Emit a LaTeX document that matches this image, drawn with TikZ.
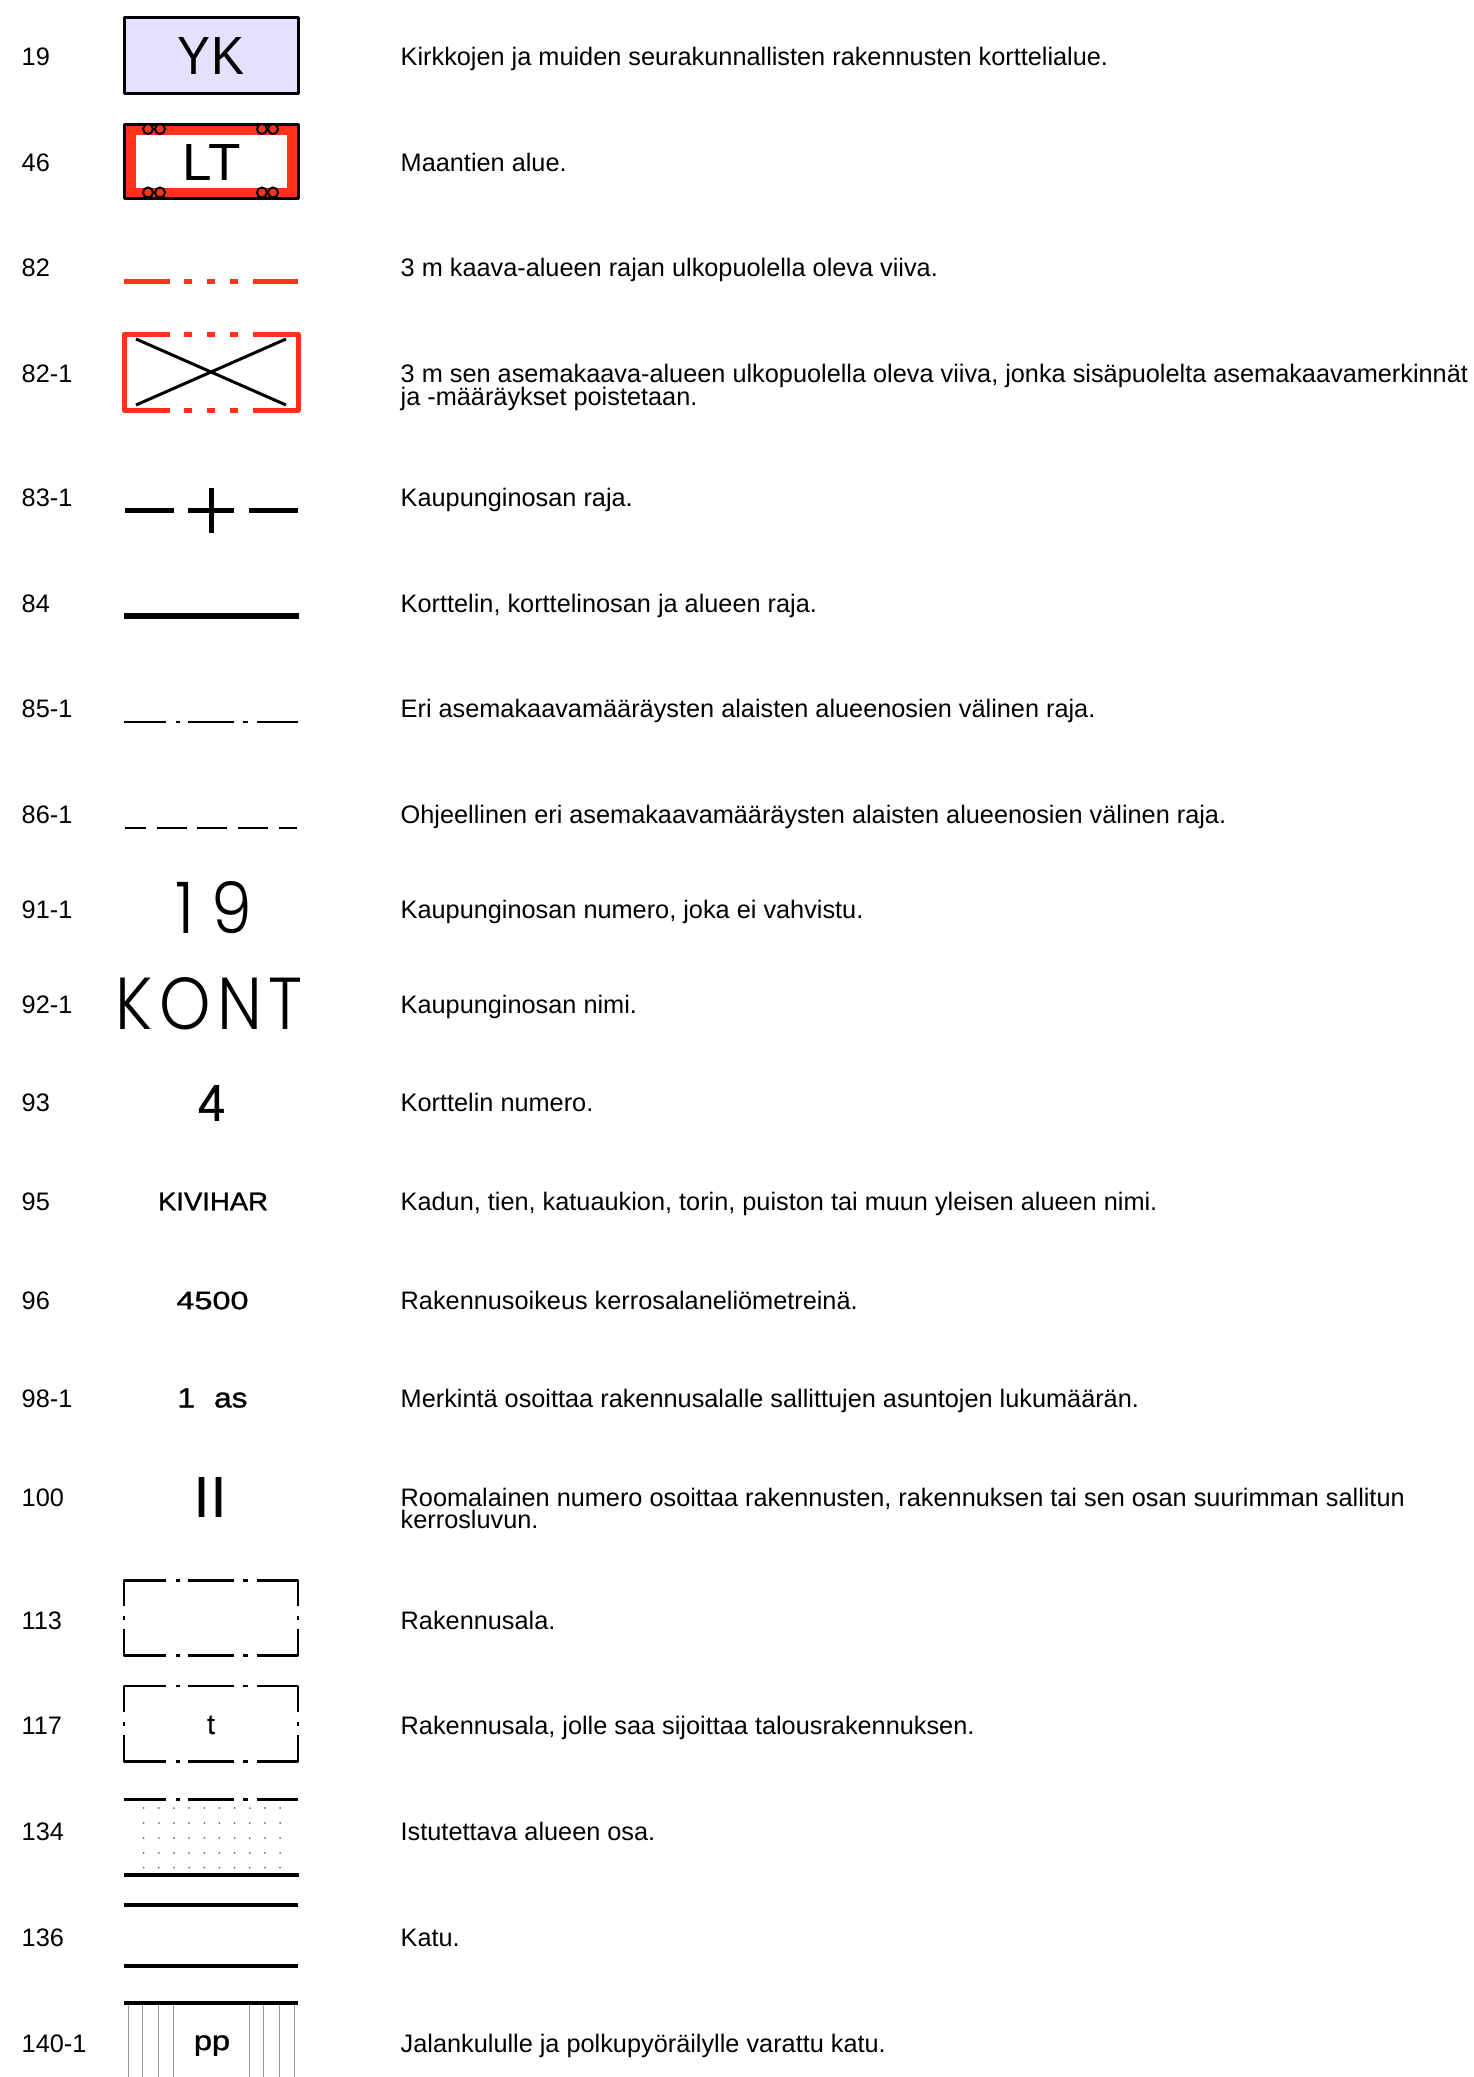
\documentclass[tikz,border=0pt]{standalone}
\usepackage{fontspec}
\usepackage{graphicx}
\setmainfont{Liberation Sans}
\newfontfamily\thinf{Poppins Light}
\newfontfamily\fbf[FakeBold=1.2]{Liberation Sans}
\definecolor{rd}{HTML}{FF3319}
\definecolor{lil}{HTML}{E6E0FF}
\definecolor{gr}{HTML}{999999}
\tikzset{
  txt/.style={anchor=base west,inner sep=0pt,font=\fontsize{25.3}{25.3}\selectfont,text=black},
  sym/.style={anchor=center,inner sep=0pt,text=black},
  heavy/.style={line width=5.5pt,black},
  thinb/.style={line width=2.8pt,black,line join=round},
  street/.style={line width=4pt,black},
  redl/.style={line width=5pt,rd,line join=round},
  blackbox/.style={line width=3pt,black,line join=round},
  thinv/.style={line width=1.5pt,gr},
}
\newcommand{\lrow}[5]{%
  \node[txt] (n#1) at (21.5,#2+9.4) {#3};
  \node[txt] (t#1) at (400.5,#2+9.4) {#4};
  #5}
\newcommand{\dashdot}[1]{%
  \foreach \a/\b in {124/166,176/180,188/234,243/248,257/298} \draw[thinb] (\a,#1) -- (\b,#1);}
\newcommand{\bldg}[1]{%
  \draw[thinb] (166,#1) -- (124,#1) -- (124,#1+26);
  \draw[thinb] (124,#1+35.5) -- (124,#1+39.5);
  \draw[thinb] (124,#1+49) -- (124,#1+75.5) -- (166,#1+75.5);
  \draw[thinb] (257,#1) -- (298,#1) -- (298,#1+26);
  \draw[thinb] (298,#1+35.5) -- (298,#1+39.5);
  \draw[thinb] (298,#1+49) -- (298,#1+75.5) -- (257,#1+75.5);
  \foreach \a/\b in {176/180,188/234,243/248} {\draw[thinb] (\a,#1) -- (\b,#1); \draw[thinb] (\a,#1+75.5) -- (\b,#1+75.5);}}
\begin{document}
\begin{tikzpicture}[x=1pt,y=-1pt]
\useasboundingbox (0,0) rectangle (1473,2077);
% 19
\lrow{a}{56}{19}{Kirkkojen ja muiden seurakunnallisten rakennusten korttelialue.}{%
  \draw[blackbox,fill=lil] (124,17) rectangle (298,93);
  \node[sym] (yk) at (211,55.5) {\resizebox{66pt}{37pt}{YK}};}
% 46
\lrow{b}{162}{46}{Maantien alue.}{%
  \fill[rd] (124,124) rectangle (298,198);
  \fill[white] (136,135) rectangle (287,188);
  \draw[blackbox] (124,124) rectangle (298,198);
  \foreach \c in {148,160,262,273} {\draw[line width=2pt,black,fill=rd] (\c,129) circle (5); \draw[line width=2pt,black,fill=rd] (\c,192.5) circle (5);}
  \node[sym] (lt) at (211.5,162) {\resizebox{58pt}{36pt}{LT}};}
% 82
\lrow{c}{267}{82}{3 m kaava-alueen rajan ulkopuolella oleva viiva.}{%
  \foreach \a/\b in {124/170,184/192,207/215,230/238,253/298} \draw[redl] (\a,281.5) -- (\b,281.5);}
% 82-1
\lrow{d}{373}{82-1}{3 m sen asemakaava-alueen ulkopuolella oleva viiva, jonka sisäpuolelta asemakaavamerkinnät}{%
  \draw[redl] (170,334) -- (124,334) -- (124,410) -- (170,410);
  \draw[redl] (253,334) -- (298,334) -- (298,410) -- (253,410);
  \foreach \a/\b in {184/192,207/215,230/238} {\draw[redl] (\a,334) -- (\b,334); \draw[redl] (\a,410) -- (\b,410);}
  \draw[line width=3pt,black] (136,339) -- (286,405);
  \draw[line width=3pt,black] (136,405) -- (286,339);}
\node[txt] (td2) at (400.5,396+9.4) {ja -määräykset poistetaan.};
% 83-1
\lrow{e}{497}{83-1}{Kaupunginosan raja.}{%
  \foreach \a/\b in {124.5/174,188/234,249/298} \draw[redl,black] (\a,510) -- (\b,510);
  \draw[redl,black] (211,488) -- (211,533);}
% 84
\lrow{f}{603}{84}{Korttelin, korttelinosan ja alueen raja.}{\draw[heavy] (124,616) -- (298.5,616);}
% 85-1
\lrow{g}{708}{85-1}{Eri asemakaavamääräysten alaisten alueenosien välinen raja.}{\dashdot{722}}
% 86-1
\lrow{h}{814}{86-1}{Ohjeellinen eri asemakaavamääräysten alaisten alueenosien välinen raja.}{%
  \foreach \a/\b in {125/146,157/187,197/227,238/268,279/297} \draw[line width=2.8pt,black] (\a,828) -- (\b,828);}
% 91-1
\lrow{i}{909}{91-1}{Kaupunginosan numero, joka ei vahvistu.}{%
  \node[sym] (s19) at (214,908) {\resizebox{76pt}{52pt}{\thinf 1\hspace{0.25em}9}};}
% 92-1
\lrow{j}{1004}{92-1}{Kaupunginosan nimi.}{%
  \node[sym] (kont) at (209,1004) {\resizebox{187pt}{52pt}{\thinf K\hspace{0.1em}O\hspace{0.1em}N\hspace{0.1em}T}};}
% 93
\lrow{k}{1102}{93}{Korttelin numero.}{%
  \node[sym] (s4) at (211.5,1103) {\resizebox{27pt}{35pt}{\fbf 4}};}
% 95
\lrow{l}{1201}{95}{Kadun, tien, katuaukion, torin, puiston tai muun yleisen alueen nimi.}{%
  \node[sym] (kiv) at (213,1201.5) {\resizebox{110pt}{17.6pt}{\fbf KIVIHAR}};}
% 96
\lrow{m}{1300}{96}{Rakennusoikeus kerrosalaneliömetreinä.}{%
  \node[sym] (s45) at (212.5,1300.5) {\resizebox{72pt}{17.5pt}{\fbf 4500}};}
% 98-1
\lrow{o}{1398}{98-1}{Merkintä osoittaa rakennusalalle sallittujen asuntojen lukumäärän.}{%
  \node[sym] (as) at (212.5,1398) {\resizebox{70pt}{19pt}{\fbf 1\hspace{0.6em}as}};}
% 100
\lrow{p}{1497}{100}{Roomalainen numero osoittaa rakennusten, rakennuksen tai sen osan suurimman sallitun}{%
  \node[sym] (ii) at (210.5,1497) {\resizebox{28.6pt}{40pt}{\bfseries I\hspace{0.168em}I}};}
\node[txt] (tp2) at (400.5,1519.5+9.4) {kerrosluvun.};
% 113
\lrow{q}{1620}{113}{Rakennusala.}{\bldg{1580.3}}
% 117
\lrow{r}{1725}{117}{Rakennusala, jolle saa sijoittaa talousrakennuksen.}{%
  \bldg{1686}
  \node[sym] (tt) at (211,1725) {\fontsize{28}{28}\selectfont\fbf t};}
% 134
\lrow{s}{1831}{134}{Istutettava alueen osa.}{%
  \dashdot{1799.4}
  \foreach \py in {1808,1823,1838,1853,1867.6} \foreach \i in {0,...,9} \fill[gr!70!black] ({143.7+\i*15.15},\py) circle (1);
  \draw[street,line width=4.5pt] (124,1875) -- (298.5,1875);}
% 136
\lrow{u}{1936.6}{136}{Katu.}{%
  \draw[street] (124,1905.3) -- (298,1905.3);
  \draw[street] (124,1965.8) -- (298,1965.8);}
% 140-1
\lrow{v}{2043}{140-1}{Jalankululle ja polkupyöräilylle varattu katu.}{%
  \foreach \c in {128.3,142.7,158.3,173.7,249.3,263.7,279.3,294.7} \draw[thinv] (\c,2003.4) -- (\c,2077);
  \draw[street] (124,2003.4) -- (298,2003.4);
  \node[sym] (pp) at (212,2045.5) {\scalebox{1.18}[1]{\fontsize{27.5}{27.5}\selectfont\fbf pp}};}
\end{tikzpicture}
\end{document}
